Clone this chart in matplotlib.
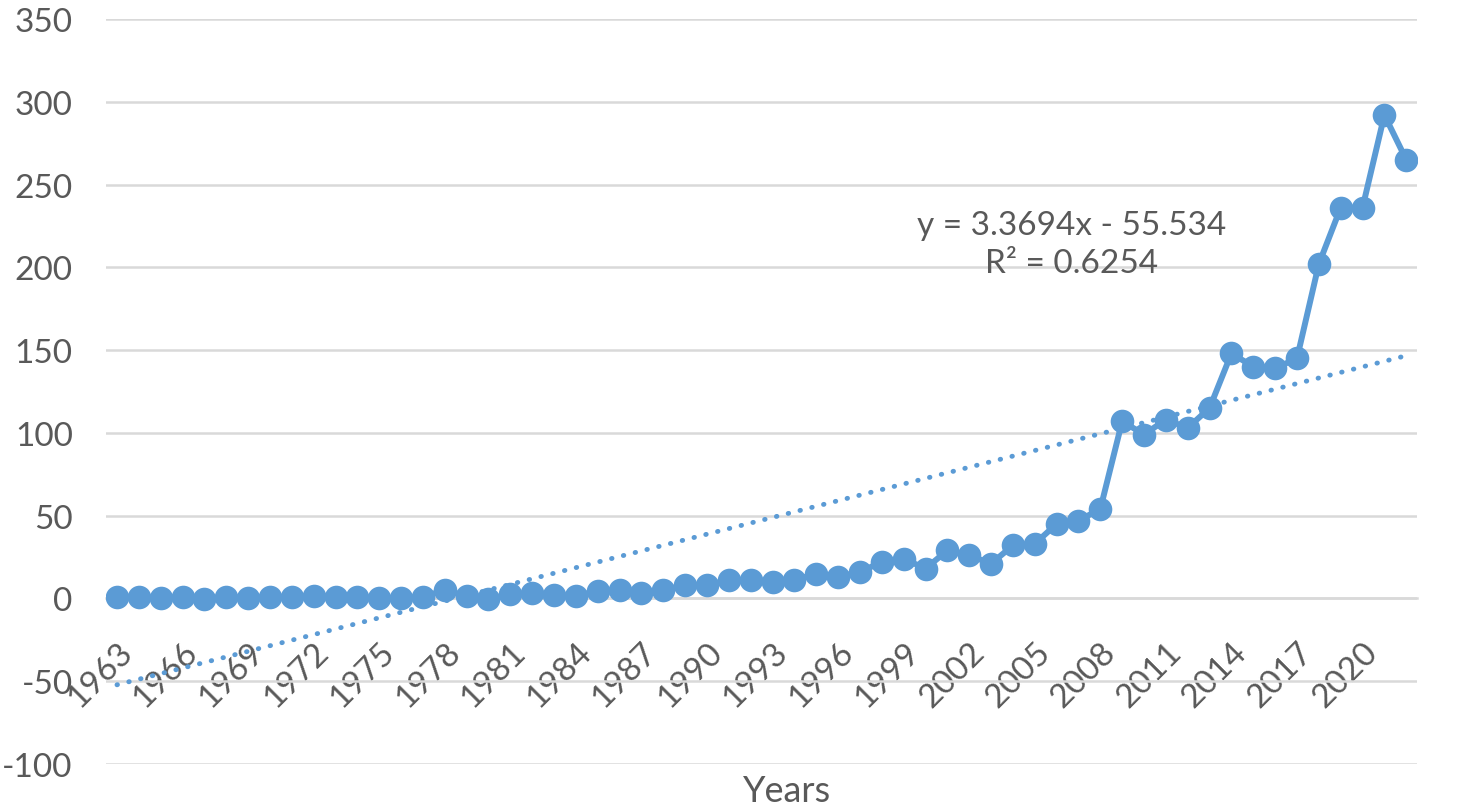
import numpy as np
import matplotlib
matplotlib.use("Agg")
import matplotlib.pyplot as plt

# yearly values
years = list(range(1963, 2023))
values = [1, 1, 0, 1, -0.5, 1, 0, 1, 1, 1.5,
          1, 1, 0, 0, 1, 5, 1.5, -0.5, 2.5, 3,
          2, 1.5, 4.5, 5, 3, 5, 8, 8, 11, 11,
          10, 11, 15, 13, 16, 22, 24, 18, 29, 26,
          21, 32, 33, 45, 47, 54, 107, 99, 108, 103,
          115, 148, 140, 139, 145, 202, 236, 236, 292, 265]

# linear trend as printed on the chart (x = 1..60)
trend_slope = 3.3694
trend_intercept = -55.534
trend_r2 = 0.6254

y_ticks = [-100, -50, 0, 50, 100, 150, 200, 250, 300, 350]

blue = "#5B9BD5"
grey_text = "#595959"
grid_col = "#D9D9D9"

plt.rcParams['font.family'] = ['Lato', 'DejaVu Sans']

fig = plt.figure(figsize=(14.61, 8.12), dpi=100)
ax = fig.add_axes([0.0726, 0.0579, 0.8974, 0.9175])

x = np.arange(1, len(years) + 1)
ax.plot(x, values, color=blue, lw=4.3, marker='o', markersize=17,
        markeredgewidth=0, solid_joinstyle='round', zorder=3)

trend = trend_slope * x + trend_intercept
ax.plot(x, trend, color=blue, lw=3.5, linestyle=(0, (0.1, 2.4)),
        dash_capstyle='round', zorder=2)

ax.set_xlim(0.5, len(years) + 0.5)
ax.set_ylim(-100, 350)
ax.set_yticks(y_ticks)
ax.set_yticklabels([str(v) for v in y_ticks])
ax.yaxis.grid(True, color=grid_col, lw=1.8)
ax.set_axisbelow(True)

for s in ['top', 'right', 'left']:
    ax.spines[s].set_visible(False)
ax.spines['bottom'].set_position(('data', 0))
ax.spines['bottom'].set_color(grid_col)
ax.spines['bottom'].set_linewidth(1.8)

ax.set_xticks(x[::3])
ax.set_xticklabels([str(y) for y in years[::3]], rotation=45,
                   ha='right', va='top', rotation_mode='anchor')
ax.tick_params(axis='x', length=0, pad=27, labelsize=24, labelcolor=grey_text)
ax.tick_params(axis='y', length=0, pad=24, labelsize=24, labelcolor=grey_text)

ax.text(44.7, 214, f"y = {trend_slope}x - {abs(trend_intercept)}\nR² = {trend_r2}",
        ha='center', va='center', fontsize=24, color=grey_text, linespacing=1.35)

fig.text(787 / 1461, 1 - 792 / 812, "Years", ha='center', va='center',
         fontsize=26, color=grey_text)

fig.savefig("out.png", dpi=100)
